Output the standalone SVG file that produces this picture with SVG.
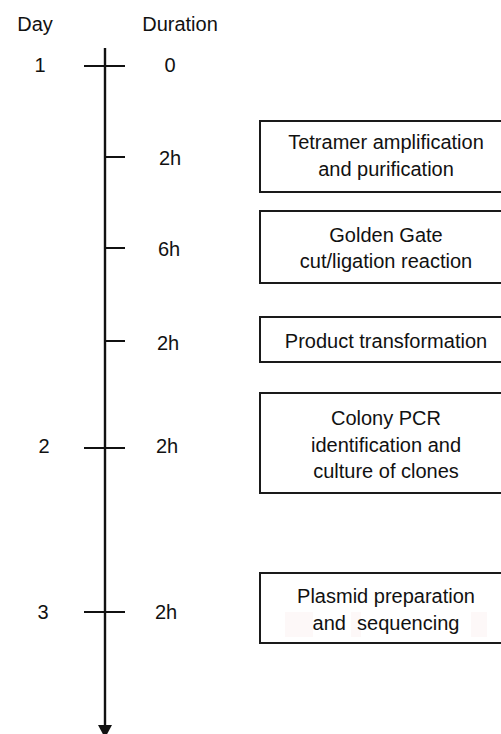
<svg xmlns="http://www.w3.org/2000/svg" width="501" height="734" viewBox="0 0 501 734">
<style>
text{font-family:"Liberation Sans",Arial,sans-serif;font-size:20px;fill:#111;text-anchor:middle}
.box{fill:none;stroke:#1a1a1a;stroke-width:2}
.ax{stroke:#111;stroke-width:2.4;fill:none}
.tk{stroke:#111;stroke-width:2;fill:none}
.hl{fill:#fdf8f8}
</style>
<rect width="501" height="734" fill="#fff"/>
<g id="headers">
<text x="35" y="31">Day</text>
<text x="180" y="31">Duration</text>
</g>
<g id="connectors">
<line class="ax" x1="105" y1="48" x2="105" y2="727"/>
<polygon points="98,725 112,725 105,738" fill="#111"/>
<line class="tk" x1="84" y1="66" x2="125" y2="66"/>
<line class="tk" x1="105" y1="157" x2="125" y2="157"/>
<line class="tk" x1="105" y1="248" x2="125" y2="248"/>
<line class="tk" x1="105" y1="341" x2="125" y2="341"/>
<line class="tk" x1="84" y1="448" x2="125" y2="448"/>
<line class="tk" x1="84" y1="612" x2="125" y2="612"/>
</g>
<g id="labels">
<text x="40" y="72">1</text>
<text x="170" y="72">0</text>
<text x="170" y="165">2h</text>
<text x="169" y="256">6h</text>
<text x="168" y="350">2h</text>
<text x="44" y="453">2</text>
<text x="167" y="453">2h</text>
<text x="43" y="619">3</text>
<text x="166" y="619">2h</text>
</g>
<g id="box1">
<rect class="box" x="260" y="121" width="260" height="71"/>
<text x="386" y="149">Tetramer amplification</text>
<text x="386" y="176">and purification</text>
</g>
<g id="box2">
<rect class="box" x="260" y="211" width="260" height="72"/>
<text x="386" y="242">Golden Gate</text>
<text x="386" y="268">cut/ligation reaction</text>
</g>
<g id="box3">
<rect class="box" x="260" y="317" width="260" height="45"/>
<text x="386" y="348">Product transformation</text>
</g>
<g id="box4">
<rect class="box" x="260" y="393" width="260" height="100"/>
<text x="386" y="425">Colony PCR</text>
<text x="386" y="452">identification and</text>
<text x="386" y="478">culture of clones</text>
</g>
<g id="box5">
<rect class="hl" x="285" y="612" width="28" height="25"/>
<rect class="hl" x="351" y="612" width="10" height="25"/>
<rect class="hl" x="471" y="612" width="16" height="25"/>
<rect class="box" x="260" y="573" width="260" height="70"/>
<text x="386" y="603">Plasmid preparation</text>
<text x="386" y="630" xml:space="preserve">and  sequencing</text>
</g>
</svg>
